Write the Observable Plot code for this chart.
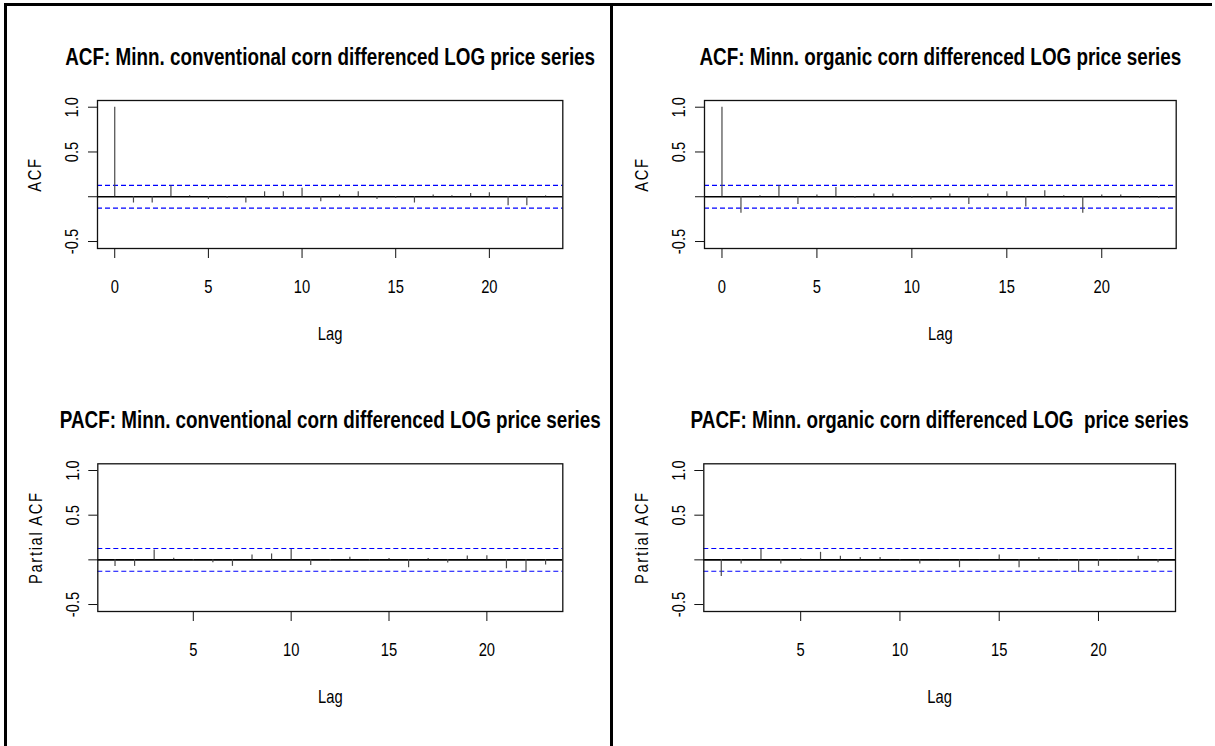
<!DOCTYPE html>
<html><head><meta charset="utf-8">
<script src="https://cdn.jsdelivr.net/npm/d3@7"></script>
<script src="https://cdn.jsdelivr.net/npm/@observablehq/plot@0.6"></script>
<style>
body{margin:0;background:#fff;}
#page{position:relative;width:1215px;height:746px;overflow:hidden;background:#fff;}
.panel{position:absolute;}
.bline{position:absolute;background:#000;}
</style></head><body><div id="page"></div>
<script>
// ---- data ----
const acfLags  = [0,1,2,3,4,5,6,7,8,9,10,11,12,13,14,15,16,17,18,19,20,21,22,23];
const pacfLags = [1,2,3,4,5,6,7,8,9,10,11,12,13,14,15,16,17,18,19,20,21,22,23];

const convAcf  = [1.0,-0.07,-0.07,0.12,0.01,-0.03,-0.02,-0.07,0.055,0.055,0.095,-0.055,0.02,0.055,-0.03,-0.02,-0.07,0.02,0.01,0.035,0.045,-0.10,-0.10,0.01];
const orgAcf   = [1.0,-0.183,0.01,0.123,-0.086,0.02,0.104,-0.019,0.03,0.03,-0.019,-0.034,0.03,-0.086,0.03,0.056,-0.115,0.067,0.01,-0.183,0.02,0.02,-0.019,-0.019];
const convPacf = [-0.073,-0.073,0.11,0.018,-0.018,-0.033,-0.073,0.055,0.066,0.117,-0.062,-0.015,0.03,-0.018,0.015,-0.088,0.015,-0.036,0.044,0.047,-0.10,-0.136,-0.058];
const orgPacf  = [-0.186,-0.047,0.117,-0.047,0.01,0.084,0.04,0.025,0.025,-0.01,-0.047,0.005,-0.088,0.005,0.055,-0.088,0.025,-0.015,-0.139,-0.073,0.005,0.04,-0.033];

const ciBound = 0.127;
const acfXTicks  = [0,5,10,15,20];
const pacfXTicks = [5,10,15,20];
const yTicks      = [-0.5, 0, 0.5, 1.0];
const yTickLabels = ["-0.5", "", "0.5", "1.0"];

const titles = [
  "ACF: Minn. conventional corn differenced LOG price series",
  "ACF: Minn. organic corn differenced LOG price series",
  "PACF: Minn. conventional corn differenced LOG price series",
  "PACF: Minn. organic corn differenced LOG  price series"
];
const yLabels = ["ACF", "ACF", "Partial ACF", "Partial ACF"];

const FONT = "'Liberation Sans','Arial',sans-serif";
const NARROW = 0.82; // the reference uses a narrow (Arial Narrow–like) face
const page = document.getElementById("page");

function panel({title, ylabel, lags, values, xDomain, xTicks, left, top, width, height, mLeft, mRight, mTop, plotH}) {
  const data = lags.map((lag, i) => ({lag, value: values[i]}));
  const chart = Plot.plot({
    width, height,
    marginLeft: mLeft, marginRight: mRight, marginTop: mTop, marginBottom: height - mTop - plotH,
    style: {background: "transparent", overflow: "visible", fontFamily: FONT},
    x: {domain: xDomain},
    y: {domain: [-0.578, 1.075]},
    marks: [
      Plot.ruleY([ciBound, -ciBound], {stroke: "#0000ff", strokeDasharray: "5,3", strokeWidth: 1.1}),
      Plot.ruleY([0], {stroke: "#000", strokeWidth: 1.6}),
      Plot.ruleX(data, {x: "lag", y1: 0, y2: "value", stroke: "#4a4a4a", strokeWidth: 1.2}),
      Plot.frame({stroke: "#111", strokeWidth: 1.3}),
      Plot.axisX({ticks: xTicks, tickSize: 10, tickFormat: () => "", label: null, stroke: "#111"}),
      Plot.axisY({ticks: yTicks, tickSize: 9, tickFormat: () => "", label: null, stroke: "#111"}),
      Plot.text(xTicks, {x: d => d, text: d => String(d), frameAnchor: "bottom", dy: 39, lineAnchor: "middle", fontSize: 18, fill: "#000", fontFamily: FONT}),
      Plot.text(yTicks, {y: d => d, text: (d, i) => yTickLabels[i], frameAnchor: "left", dx: -25, rotate: -90, textAnchor: "middle", lineAnchor: "middle", fontSize: 18, fill: "#000", fontFamily: FONT}),
      Plot.text(["Lag"], {text: d => d, frameAnchor: "bottom", dy: 86, lineAnchor: "middle", fontSize: 18, fill: "#000", fontFamily: FONT}),
      Plot.text([ylabel], {text: d => d, frameAnchor: "left", dx: -62, rotate: -90, textAnchor: "middle", lineAnchor: "middle", fontSize: 18, fill: "#000", fontFamily: FONT}),
      Plot.text([title], {text: d => d, frameAnchor: "top", dy: -43, lineAnchor: "middle", fontSize: 23, fontWeight: "bold", fill: "#000", fontFamily: FONT})
    ]
  });
  // condense every text along its own writing direction
  chart.querySelectorAll("text").forEach(t => {
    const tr = t.getAttribute("transform") || "";
    t.setAttribute("transform", (tr + " scale(" + NARROW + ",1)").trim());
    if (t.textContent === ylabel) t.style.letterSpacing = "2px";
  });
  chart.classList.add("panel");
  chart.style.left = left + "px";
  chart.style.top = top + "px";
  page.appendChild(chart);
}

const acfDomain  = [-0.92, 23.92];
const pacfDomain = [0.12, 23.88];

panel({title: titles[0], ylabel: yLabels[0], lags: acfLags, values: convAcf, xDomain: acfDomain, xTicks: acfXTicks,
  left: 0, top: 0, width: 607, height: 363, mLeft: 97, mRight: 607 - 562.3, mTop: 100, plotH: 148});
panel({title: titles[1], ylabel: yLabels[1], lags: acfLags, values: orgAcf, xDomain: acfDomain, xTicks: acfXTicks,
  left: 607, top: 0, width: 608, height: 363, mLeft: 97, mRight: 608 - 568.7, mTop: 100, plotH: 148});
panel({title: titles[2], ylabel: yLabels[2], lags: pacfLags, values: convPacf, xDomain: pacfDomain, xTicks: pacfXTicks,
  left: 0, top: 363, width: 607, height: 383, mLeft: 97.3, mRight: 607 - 562.3, mTop: 100.3, plotH: 147.7});
panel({title: titles[3], ylabel: yLabels[3], lags: pacfLags, values: orgPacf, xDomain: pacfDomain, xTicks: pacfXTicks,
  left: 607, top: 363, width: 608, height: 383, mLeft: 96.3, mRight: 608 - 568, mTop: 100.3, plotH: 147.7});

// table-like borders
function bline(l, t, w, h) { const d = document.createElement("div"); d.className = "bline";
  Object.assign(d.style, {left: l + "px", top: t + "px", width: w + "px", height: h + "px"}); page.appendChild(d); }
bline(4, 3, 1208, 3);
bline(4, 3, 3, 743);
bline(610, 3, 3, 743);
</script></body></html>
